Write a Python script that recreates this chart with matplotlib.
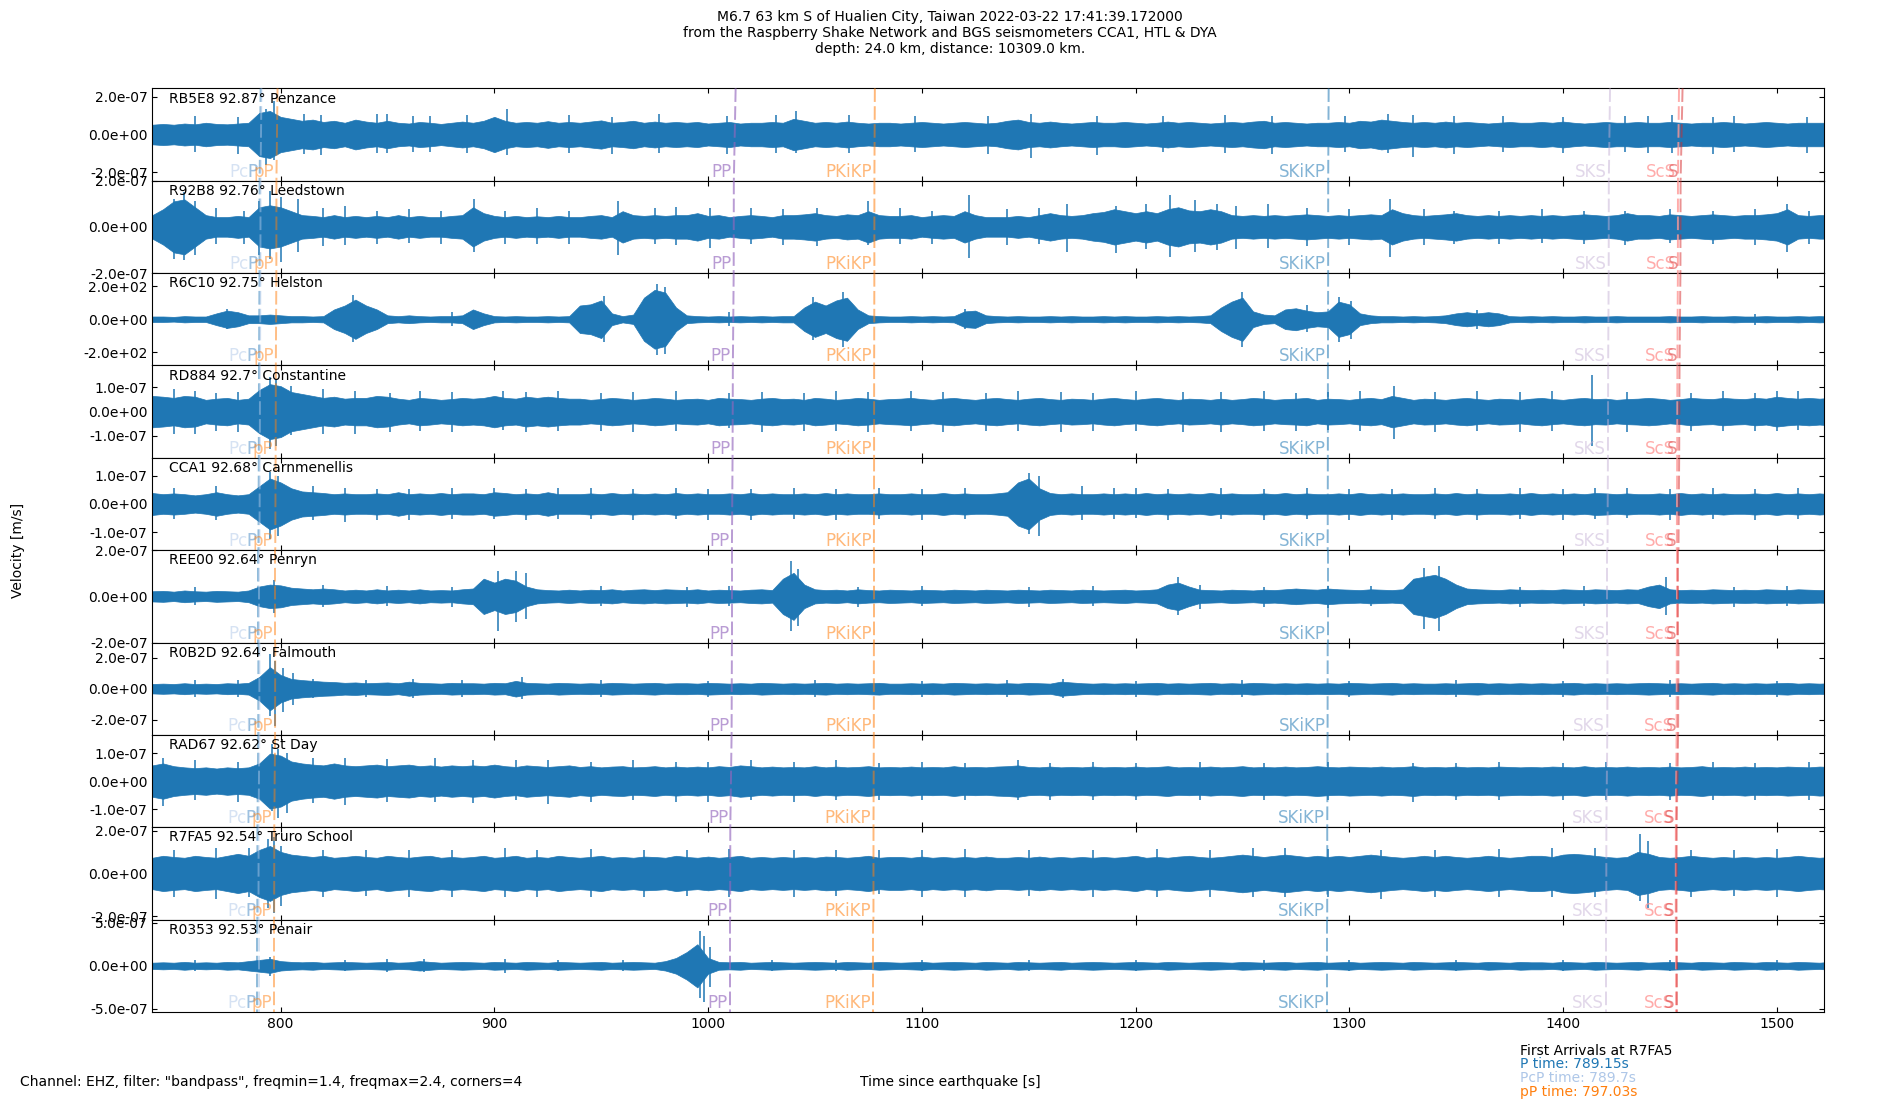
import numpy as np
import matplotlib
matplotlib.use("Agg")
import matplotlib.pyplot as plt

# ---------------- data ----------------
stations = ["RB5E8", "R92B8", "R6C10", "RD884", "CCA1", "REE00", "R0B2D", "RAD67", "R7FA5", "R0353"]
places = ["Penzance", "Leedstown", "Helston", "Constantine", "Carnmenellis", "Penryn",
          "Falmouth", "St Day", "Truro School", "Penair"]
distances = [92.87, 92.76, 92.75, 92.7, 92.68, 92.64, 92.64, 92.62, 92.54, 92.53]

# half range of each panel's y axis and tick value used
y_half = [2.44e-07, 2.0e-07, 278.0, 1.9e-07, 1.64e-07, 2.0e-07, 2.98e-07, 1.65e-07, 2.16e-07, 5.35e-07]
y_tick = [2e-07, 2e-07, 200.0, 1e-07, 1e-07, 2e-07, 2e-07, 1e-07, 2e-07, 5e-07]

# envelope sample times (s since origin)
env_times = np.arange(740, 1526, 5)

# amplitude envelope per station (fraction of panel half-range), read every 5 s
env_RB5E8 = [
    .25, .27, .25, .28, .26, .30, .27, .26, .28, .30,
    .55, .60, .45, .40, .35, .38, .32, .35, .30, .38,
    .33, .30, .35, .30, .28, .32, .30, .27, .30, .33,
    .30, .35, .45, .35, .30, .32, .30, .34, .30, .32,
    .30, .33, .36, .30, .32, .35, .30, .33, .30, .32,
    .30, .32, .28, .30, .32, .28, .30, .30, .32, .30,
    .40, .35, .30, .32, .30, .33, .30, .28, .30, .30,
    .28, .30, .32, .30, .28, .30, .32, .30, .28, .30,
    .35, .38, .32, .30, .33, .30, .28, .30, .32, .30,
    .30, .32, .30, .28, .30, .33, .30, .32, .30, .28,
    .30, .32, .30, .33, .35, .30, .32, .30, .28, .30,
    .30, .32, .30, .35, .33, .38, .35, .32, .30, .32,
    .30, .33, .30, .32, .30, .28, .30, .32, .30, .30,
    .32, .30, .33, .30, .28, .30, .32, .30, .30, .32,
    .30, .30, .32, .30, .28, .30, .30, .32, .30, .28,
    .30, .32, .30, .28, .30, .30, .30, .30]
env_R92B8 = [
    .30, .45, .65, .70, .50, .30, .25, .25, .28, .25,
    .50, .55, .50, .40, .30, .28, .25, .30, .25, .28,
    .25, .28, .25, .30, .25, .28, .25, .25, .28, .30,
    .50, .35, .28, .25, .28, .25, .27, .25, .28, .25,
    .25, .28, .30, .25, .40, .30, .28, .30, .28, .30,
    .30, .35, .28, .30, .25, .28, .30, .28, .25, .30,
    .30, .32, .35, .30, .28, .32, .30, .40, .30, .28,
    .28, .30, .25, .28, .30, .28, .40, .30, .25, .25,
    .25, .28, .25, .30, .35, .30, .28, .30, .35, .38,
    .45, .40, .35, .40, .35, .45, .50, .42, .40, .45,
    .40, .30, .28, .30, .28, .30, .28, .30, .32, .30,
    .28, .30, .28, .30, .32, .30, .45, .35, .30, .28,
    .30, .32, .35, .30, .28, .30, .28, .30, .28, .30,
    .28, .30, .28, .30, .32, .30, .28, .30, .35, .30,
    .30, .28, .32, .30, .28, .30, .32, .30, .28, .30,
    .30, .32, .35, .45, .30, .28, .30, .30]
env_R6C10 = [
    .07, .07, .06, .08, .07, .07, .15, .22, .18, .10,
    .10, .12, .10, .08, .08, .07, .08, .25, .35, .50,
    .35, .25, .10, .08, .10, .08, .07, .08, .08, .10,
    .25, .15, .08, .07, .08, .07, .07, .08, .07, .08,
    .35, .38, .48, .15, .08, .12, .55, .75, .68, .30,
    .10, .08, .07, .08, .07, .08, .07, .08, .07, .08,
    .08, .30, .45, .35, .48, .55, .25, .10, .08, .07,
    .07, .08, .07, .08, .07, .08, .20, .22, .10, .08,
    .07, .08, .07, .07, .08, .07, .08, .07, .07, .08,
    .07, .08, .07, .07, .08, .07, .08, .07, .08, .10,
    .30, .45, .55, .20, .12, .10, .25, .28, .22, .18,
    .20, .45, .38, .15, .10, .08, .08, .07, .08, .07,
    .08, .10, .15, .18, .15, .18, .15, .08, .07, .08,
    .07, .08, .07, .07, .08, .07, .07, .08, .07, .07,
    .07, .07, .08, .07, .07, .08, .07, .07, .08, .07,
    .07, .08, .07, .07, .08, .07, .08, .07]
env_RD884 = [
    .40, .38, .35, .40, .38, .30, .33, .35, .30, .33,
    .55, .70, .65, .50, .45, .40, .35, .38, .33, .35,
    .35, .40, .38, .33, .30, .35, .33, .30, .32, .35,
    .33, .35, .40, .35, .33, .38, .35, .38, .35, .33,
    .33, .30, .32, .35, .33, .30, .32, .35, .33, .30,
    .32, .33, .30, .35, .33, .32, .30, .33, .35, .32,
    .33, .30, .35, .33, .30, .32, .35, .33, .30, .32,
    .33, .35, .32, .30, .33, .35, .32, .30, .33, .35,
    .32, .30, .33, .35, .32, .30, .33, .32, .30, .33,
    .35, .32, .30, .33, .35, .32, .30, .33, .32, .30,
    .33, .30, .32, .35, .33, .30, .32, .33, .35, .30,
    .33, .32, .30, .33, .35, .32, .40, .35, .30, .33,
    .32, .30, .33, .35, .32, .30, .33, .32, .30, .33,
    .35, .32, .30, .33, .35, .32, .33, .30, .32, .33,
    .35, .33, .30, .32, .35, .33, .32, .35, .33, .32,
    .35, .33, .38, .35, .33, .35, .33, .35]
env_CCA1 = [
    .28, .25, .27, .25, .22, .25, .30, .25, .22, .25,
    .45, .65, .55, .40, .32, .30, .28, .25, .27, .25,
    .25, .27, .25, .30, .25, .27, .25, .28, .25, .27,
    .27, .25, .30, .28, .25, .27, .25, .30, .25, .25,
    .25, .27, .25, .28, .25, .27, .25, .27, .25, .28,
    .25, .27, .25, .25, .27, .25, .28, .25, .27, .25,
    .25, .27, .25, .28, .25, .27, .25, .25, .27, .25,
    .25, .27, .25, .25, .28, .25, .27, .25, .25, .27,
    .30, .55, .65, .40, .28, .25, .27, .25, .25, .27,
    .25, .27, .25, .28, .25, .27, .25, .27, .25, .28,
    .25, .27, .25, .25, .27, .25, .28, .25, .27, .25,
    .25, .27, .25, .28, .25, .27, .25, .27, .25, .25,
    .27, .25, .28, .25, .27, .25, .25, .27, .25, .28,
    .25, .27, .25, .27, .25, .28, .27, .25, .27, .25,
    .25, .27, .25, .28, .25, .27, .25, .27, .25, .25,
    .27, .25, .28, .25, .27, .25, .27, .25]
env_REE00 = [
    .13, .14, .12, .15, .13, .12, .14, .13, .12, .15,
    .25, .30, .28, .22, .20, .18, .20, .18, .15, .17,
    .15, .18, .15, .17, .15, .18, .15, .16, .15, .18,
    .20, .45, .35, .45, .40, .25, .18, .16, .15, .17,
    .15, .17, .16, .18, .15, .17, .18, .16, .18, .17,
    .16, .18, .15, .17, .16, .15, .17, .18, .16, .45,
    .60, .30, .18, .16, .17, .15, .18, .16, .15, .17,
    .16, .15, .17, .16, .15, .17, .16, .15, .17, .16,
    .15, .17, .16, .15, .17, .16, .15, .17, .16, .15,
    .16, .17, .15, .16, .18, .30, .35, .25, .17, .16,
    .15, .17, .16, .15, .17, .16, .18, .20, .18, .17,
    .20, .18, .17, .16, .18, .17, .16, .18, .45, .50,
    .55, .45, .30, .20, .18, .17, .16, .18, .17, .16,
    .17, .16, .18, .17, .16, .18, .17, .16, .18, .17,
    .25, .30, .18, .16, .17, .16, .18, .17, .16, .17,
    .16, .18, .17, .16, .18, .17, .16, .17]
env_R0B2D = [
    .12, .13, .12, .14, .12, .13, .12, .14, .13, .15,
    .30, .55, .35, .25, .22, .20, .18, .17, .15, .16,
    .14, .15, .16, .14, .18, .15, .14, .13, .15, .14,
    .14, .13, .15, .14, .20, .15, .14, .13, .15, .14,
    .13, .14, .13, .15, .14, .13, .14, .15, .13, .14,
    .14, .13, .15, .14, .13, .14, .13, .15, .14, .13,
    .14, .13, .14, .15, .13, .14, .13, .14, .15, .13,
    .13, .14, .13, .14, .13, .15, .14, .13, .14, .13,
    .14, .13, .15, .14, .13, .18, .16, .14, .13, .14,
    .13, .14, .13, .14, .15, .13, .14, .13, .14, .15,
    .13, .14, .13, .15, .14, .13, .14, .13, .14, .13,
    .14, .13, .15, .14, .13, .14, .15, .13, .14, .13,
    .13, .14, .13, .14, .15, .13, .14, .13, .14, .13,
    .14, .13, .14, .15, .13, .14, .13, .14, .13, .14,
    .15, .14, .13, .14, .13, .14, .15, .13, .14, .13,
    .14, .13, .14, .15, .13, .14, .13, .14]
env_RAD67 = [
    .40, .45, .38, .35, .33, .35, .32, .35, .33, .35,
    .45, .70, .65, .50, .45, .42, .40, .45, .40, .38,
    .40, .42, .38, .40, .42, .38, .40, .37, .40, .38,
    .40, .38, .42, .38, .36, .40, .38, .36, .38, .40,
    .36, .38, .35, .37, .38, .35, .36, .38, .35, .37,
    .35, .37, .35, .38, .36, .40, .38, .35, .37, .35,
    .36, .35, .38, .35, .37, .35, .36, .38, .35, .36,
    .35, .37, .35, .36, .35, .38, .35, .36, .35, .37,
    .38, .40, .36, .35, .37, .35, .36, .35, .37, .35,
    .36, .35, .37, .35, .36, .38, .35, .36, .35, .37,
    .35, .36, .38, .35, .36, .35, .37, .35, .36, .38,
    .36, .35, .37, .36, .35, .37, .35, .36, .38, .35,
    .36, .35, .37, .35, .36, .35, .37, .36, .35, .36,
    .35, .37, .36, .35, .38, .35, .36, .35, .37, .35,
    .36, .35, .37, .35, .36, .38, .35, .36, .35, .37,
    .35, .36, .35, .37, .36, .35, .37, .36]
env_R7FA5 = [
    .40, .45, .42, .40, .45, .42, .40, .45, .50, .45,
    .60, .70, .55, .48, .45, .42, .45, .40, .42, .45,
    .42, .40, .45, .42, .40, .43, .45, .40, .42, .40,
    .42, .45, .40, .42, .45, .40, .42, .40, .45, .42,
    .40, .42, .45, .40, .42, .40, .43, .42, .40, .45,
    .42, .40, .43, .40, .42, .45, .40, .42, .40, .42,
    .40, .42, .40, .43, .42, .40, .42, .45, .40, .42,
    .42, .40, .43, .40, .42, .40, .42, .40, .43, .40,
    .40, .42, .40, .43, .40, .42, .40, .42, .40, .42,
    .40, .42, .45, .40, .42, .40, .43, .45, .42, .40,
    .42, .45, .48, .45, .42, .45, .48, .45, .42, .45,
    .42, .45, .42, .45, .48, .45, .42, .40, .42, .45,
    .42, .45, .42, .40, .42, .45, .42, .40, .42, .45,
    .45, .42, .48, .50, .48, .45, .42, .40, .42, .55,
    .50, .42, .40, .42, .45, .42, .40, .42, .40, .42,
    .40, .42, .40, .42, .45, .42, .40, .42]
env_R0353 = [
    .08, .09, .08, .10, .08, .09, .08, .10, .09, .12,
    .15, .18, .12, .10, .09, .10, .08, .09, .10, .09,
    .08, .09, .10, .08, .09, .12, .10, .08, .09, .10,
    .09, .08, .10, .09, .08, .10, .09, .08, .10, .09,
    .08, .09, .10, .08, .09, .10, .09, .08, .12, .20,
    .35, .55, .20, .10, .09, .10, .08, .09, .10, .09,
    .08, .09, .10, .09, .08, .10, .09, .08, .10, .09,
    .08, .09, .10, .08, .09, .10, .09, .08, .10, .09,
    .08, .10, .09, .08, .09, .10, .08, .09, .10, .09,
    .08, .09, .10, .09, .08, .10, .09, .08, .09, .10,
    .09, .08, .10, .09, .08, .09, .10, .08, .09, .10,
    .08, .09, .10, .08, .09, .10, .09, .08, .10, .09,
    .08, .09, .10, .09, .08, .10, .09, .08, .10, .09,
    .09, .08, .10, .09, .08, .10, .09, .08, .09, .10,
    .08, .09, .10, .09, .08, .10, .09, .08, .10, .09,
    .08, .10, .09, .08, .10, .09, .08, .10]

# notable peaks per station: (time s, upward fraction, downward fraction)
peaks_RB5E8 = [(760, .40, .38), (780, .38, .42), (793, .55, .65), (797, .72, .55), (811, .45, .42),
               (819, .42, .45), (845, .45, .40), (850, .45, .40), (862, .40, .38), (870, .40, .38),
               (887, .42, .40), (906, .55, .45), (935, .42, .40), (955, .38, .42), (977, .45, .40),
               (1009, .40, .42), (1032, .42, .40), (1041, .50, .40), (1066, .42, .40), (1097, .40, .38),
               (1131, .40, .42), (1151, .45, .50), (1182, .40, .45), (1213, .40, .38), (1242, .42, .40),
               (1264, .40, .42), (1298, .40, .38), (1318, .45, .40), (1330, .42, .48), (1349, .40, .42),
               (1372, .40, .38), (1400, .38, .40), (1429, .40, .38), (1440, .40, .40), (1451, .42, .40),
               (1470, .38, .42), (1480, .40, .38), (1514, .38, .40)]
peaks_R92B8 = [(750, .60, .70), (755, .75, .72), (760, .55, .60), (770, .40, .38), (783, .35, .38),
               (790, .55, .60), (795, .78, .70), (800, .65, .75), (808, .60, .55), (820, .40, .42),
               (830, .45, .40), (845, .35, .38), (860, .38, .35), (875, .35, .38), (890.5, .60, .55),
               (905, .35, .38), (920, .40, .38), (935, .35, .38), (958, .55, .60), (975, .40, .38),
               (985, .42, .40), (1001, .40, .45), (1020, .40, .38), (1035, .38, .40), (1051, .40, .42),
               (1075, .55, .40), (1090, .40, .38), (1105, .35, .38), (1122, .68, .68), (1140, .38, .40),
               (1155, .40, .38), (1168, .50, .55), (1191, .45, .56), (1205, .50, .48), (1216, .68, .65),
               (1228, .58, .55), (1238, .50, .50), (1247, .45, .48), (1262, .50, .45), (1280, .40, .42),
               (1300, .38, .40), (1319, .60, .65), (1335, .38, .40), (1349, .35, .38), (1370, .35, .38),
               (1390, .38, .35), (1410, .35, .38), (1429, .35, .40), (1450, .38, .35), (1470, .35, .38),
               (1490, .38, .40), (1505, .50, .55), (1515, .35, .38)]
peaks_R6C10 = [(775, .23, .22), (834, .52, .50), (880, .15, .14), (951.5, .50, .50), (976, .76, .78),
               (980, .70, .75), (1010, .15, .14), (1049, .48, .45), (1063, .58, .60), (1120, .22, .22),
               (1250, .60, .60), (1280, .30, .28), (1295, .48, .50), (1301, .40, .42), (1360, .20, .22),
               (1490, .12, .12)]
peaks_RD884 = [(750, .50, .48), (760, .45, .48), (770, .40, .42), (780, .42, .45), (795, .75, .80),
               (798, .70, .75), (805, .55, .50), (820, .50, .48), (835, .45, .48), (851, .40, .45),
               (865, .45, .42), (880, .42, .45), (904, .45, .40), (915, .42, .45), (930, .45, .42),
               (950, .40, .42), (965, .42, .45), (985, .45, .42), (1010, .40, .35), (1025, .42, .45),
               (1045, .40, .42), (1060, .45, .42), (1075, .42, .45), (1095, .45, .42), (1110, .42, .45),
               (1130, .40, .42), (1145, .45, .42), (1165, .42, .45), (1180, .40, .42), (1200, .45, .42),
               (1222, .42, .45), (1240, .42, .45), (1260, .45, .42), (1275, .40, .42), (1290, .42, .40),
               (1305, .45, .42), (1321, .55, .60), (1340, .42, .45), (1360, .45, .42), (1380, .42, .45),
               (1395, .45, .42), (1413.5, .80, .75), (1430, .42, .45), (1460, .40, .42), (1475, .45, .42),
               (1490, .40, .42), (1500, .45, .42), (1510, .45, .40)]
peaks_CCA1 = [(750, .35, .33), (770, .38, .35), (795, .70, .75), (799, .60, .70), (815, .38, .35),
              (830, .35, .38), (845, .33, .35), (860, .33, .35), (880, .35, .33), (900, .35, .33),
              (915, .33, .35), (930, .35, .33), (945, .35, .33), (965, .33, .35), (985, .35, .33),
              (1000, .33, .35), (1020, .33, .35), (1040, .35, .33), (1060, .33, .35), (1080, .35, .33),
              (1100, .33, .35), (1120, .35, .33), (1150, .67, .65), (1155, .60, .70), (1175, .38, .35),
              (1190, .35, .33), (1200, .35, .30), (1215, .33, .35), (1240, .35, .33), (1260, .33, .35),
              (1280, .35, .33), (1300, .33, .35), (1320, .33, .35), (1340, .35, .33), (1360, .33, .35),
              (1380, .35, .33), (1400, .33, .35), (1415, .35, .33), (1430, .35, .30), (1450, .33, .35),
              (1470, .35, .33), (1490, .33, .35), (1510, .35, .33)]
peaks_REE00 = [(760, .20, .18), (797, .35, .35), (820, .25, .22), (850, .22, .20), (880, .20, .22),
               (901.5, .55, .74), (910, .55, .55), (915, .50, .50), (950, .22, .20), (990, .20, .22),
               (1010, .22, .20), (1039, .76, .74), (1042, .60, .65), (1070, .20, .22), (1100, .22, .20),
               (1150, .20, .22), (1180, .22, .20), (1220, .42, .40), (1230, .25, .28), (1260, .20, .22),
               (1290, .22, .25), (1310, .22, .20), (1335, .62, .70), (1342, .66, .74), (1380, .20, .22),
               (1410, .22, .20), (1448, .42, .40), (1480, .20, .22), (1505, .22, .20)]
peaks_R0B2D = [(760, .18, .17), (780, .18, .17), (795, .75, .60), (797.5, .60, .80), (801, .45, .50),
               (806, .35, .35), (815, .22, .20), (840, .18, .17), (862, .22, .20), (885, .18, .17),
               (913, .25, .22), (950, .18, .17), (1000, .17, .18), (1050, .18, .17), (1100, .17, .18),
               (1140, .18, .17), (1166, .22, .20), (1200, .17, .18), (1250, .18, .17), (1300, .17, .18),
               (1350, .18, .17), (1400, .17, .18), (1450, .18, .17), (1500, .17, .18)]
peaks_RAD67 = [(745, .50, .55), (760, .45, .42), (780, .42, .45), (796, .80, .65), (799, .70, .80),
               (803, .60, .70), (815, .50, .48), (830, .50, .52), (850, .48, .45), (872, .50, .45),
               (890, .45, .48), (910, .45, .42), (925, .45, .50), (945, .42, .45), (965, .45, .42),
               (985, .42, .45), (1000, .42, .45), (1020, .45, .42), (1040, .42, .45), (1060, .45, .42),
               (1080, .40, .42), (1100, .42, .40), (1120, .40, .42), (1145, .45, .42), (1160, .40, .42),
               (1180, .42, .40), (1200, .40, .42), (1230, .42, .40), (1260, .40, .42), (1290, .42, .40),
               (1330, .40, .45), (1350, .40, .42), (1370, .42, .40), (1400, .40, .42), (1420, .42, .40),
               (1450, .40, .42), (1470, .42, .40), (1490, .40, .42), (1515, .42, .40)]
peaks_R7FA5 = [(750, .50, .52), (770, .55, .55), (785, .55, .50), (794, .75, .75), (797, .80, .85),
               (800, .60, .70), (820, .50, .52), (840, .50, .48), (860, .50, .50), (880, .50, .52),
               (905, .55, .50), (920, .50, .52), (945, .52, .50), (970, .50, .52), (990, .50, .48),
               (1010, .52, .50), (1040, .50, .52), (1060, .50, .48), (1080, .50, .45), (1100, .50, .52),
               (1120, .52, .50), (1150, .50, .48), (1180, .50, .52), (1210, .52, .50), (1235, .50, .52),
               (1255, .55, .50), (1270, .55, .52), (1290, .52, .50), (1315, .50, .55), (1340, .50, .52),
               (1370, .52, .50), (1395, .55, .52), (1415, .55, .50), (1436, .85, .60), (1440, .70, .75),
               (1460, .50, .52), (1480, .50, .48), (1500, .52, .50)]
peaks_R0353 = [(760, .12, .12), (795, .20, .22), (830, .12, .12), (850, .14, .13), (867, .15, .14),
               (905, .14, .15), (930, .12, .12), (960, .12, .12), (996, .75, .70), (998, .65, .78),
               (1001, .40, .45), (1030, .12, .12), (1060, .12, .12), (1100, .12, .12), (1150, .12, .12),
               (1200, .12, .12), (1260, .12, .12), (1300, .12, .12), (1350, .12, .12), (1400, .12, .12),
               (1450, .12, .12), (1500, .12, .12)]

envelopes = [env_RB5E8, env_R92B8, env_R6C10, env_RD884, env_CCA1, env_REE00,
             env_R0B2D, env_RAD67, env_R7FA5, env_R0353]
peaks = [peaks_RB5E8, peaks_R92B8, peaks_R6C10, peaks_RD884, peaks_CCA1, peaks_REE00,
         peaks_R0B2D, peaks_RAD67, peaks_R7FA5, peaks_R0353]

# phase arrival times at each station (s)
phase_names = ["P", "PcP", "pP", "PP", "PKiKP", "SKiKP", "SKS", "ScS", "S"]
t_P = [790.67, 790.16, 790.12, 789.89, 789.79, 789.61, 789.61, 789.52, 789.15, 789.10]
t_PcP = [791.05, 790.60, 790.56, 790.36, 790.27, 790.11, 790.11, 790.03, 789.70, 789.66]
t_pP = [798.55, 798.04, 798.00, 797.77, 797.67, 797.49, 797.49, 797.40, 797.03, 796.98]
t_PP = [1012.9, 1012.05, 1011.98, 1011.6, 1011.45, 1011.15, 1011.15, 1011.0, 1010.4, 1010.33]
t_PKiKP = [1078.03, 1077.82, 1077.8, 1077.7, 1077.67, 1077.59, 1077.59, 1077.55, 1077.4, 1077.38]
t_SKiKP = [1290.36, 1290.14, 1290.12, 1290.02, 1289.98, 1289.9, 1289.9, 1289.86, 1289.7, 1289.68]
t_SKS = [1422.02, 1421.44, 1421.39, 1421.13, 1421.03, 1420.82, 1420.82, 1420.72, 1420.3, 1420.25]
t_ScS = [1454.29, 1453.79, 1453.75, 1453.52, 1453.43, 1453.25, 1453.25, 1453.16, 1452.8, 1452.76]
t_S = [1455.94, 1455.03, 1454.94, 1454.53, 1454.36, 1454.03, 1454.03, 1453.86, 1453.2, 1453.12]
phase_times = [t_P, t_PcP, t_pP, t_PP, t_PKiKP, t_SKiKP, t_SKS, t_ScS, t_S]
phase_colors = ["#1f77b4", "#aec7e8", "#ff7f0e", "#9467bd", "#ff7f0e", "#1f77b4", "#c5b0d5", "#ff9896", "#d62728"]
phase_alpha = [0.5, 0.5, 0.5, 0.65, 0.55, 0.55, 0.5, 0.8, 0.5]

x_limits = (740.0, 1522.3)
x_ticks = [800, 900, 1000, 1100, 1200, 1300, 1400, 1500]

title = ("M6.7 63 km S of Hualien City, Taiwan 2022-03-22 17:41:39.172000\n"
         "from the Raspberry Shake Network and BGS seismometers CCA1, HTL & DYA\n"
         "depth: 24.0 km, distance: 10309.0 km.")
filter_note = 'Channel: EHZ, filter: "bandpass", freqmin=1.4, freqmax=2.4, corners=4'
arrival_lines = [("First Arrivals at R7FA5", "black"),
                 ("P time: 789.15s", "#1f77b4"),
                 ("PcP time: 789.7s", "#aec7e8"),
                 ("pP time: 797.03s", "#ff7f0e")]

# ---------------- figure ----------------
trace_color = "#1f77b4"
fig, axes = plt.subplots(len(stations), 1, figsize=(19, 11), dpi=100, sharex=True)
fig.subplots_adjust(left=0.0802, right=0.9602, top=0.9197, bottom=0.08, hspace=0)

n = len(stations)
for i, ax in enumerate(axes):
    yl = y_half[i]
    env = np.array(envelopes[i]) * yl * 0.85
    ax.fill_between(env_times, -env, env, color=trace_color, lw=0.5, zorder=2)
    pk_t = [p[0] for p in peaks[i]]
    pk_hi = [p[1] * yl for p in peaks[i]]
    pk_lo = [-p[2] * yl for p in peaks[i]]
    ax.vlines(pk_t, pk_lo, pk_hi, color=trace_color, lw=1.1, zorder=2)
    ax.axhline(0, color=trace_color, lw=1.0, zorder=2)

    ax.set_xlim(*x_limits)
    ax.set_ylim(-yl, yl)
    yt = y_tick[i]
    ax.set_yticks([-yt, 0, yt])
    ax.set_yticklabels(["%.1e" % v for v in (-yt, 0.0, yt)])
    ax.set_xticks(x_ticks)
    ax.tick_params(direction="in", top=True, right=True, labelsize=10)
    if i < n - 1:
        ax.tick_params(labelbottom=False)

    # phase markers: line from this station's arrival (top) to the next station's (bottom)
    j = min(i + 1, n - 1)
    for name, times, col, al in zip(phase_names, phase_times, phase_colors, phase_alpha):
        t_top, t_bot = times[i], times[j]
        ax.plot([t_top, t_bot], [yl, -yl], color=col, alpha=al, lw=1.4,
                ls=(0, (7, 2.2)), zorder=3)
        ax.text(t_bot - 1.0, -yl, name, color=col, alpha=al, fontsize=12,
                ha="right", va="bottom", zorder=3)

    ax.text(0.0102, 0.965, f"{stations[i]} {distances[i]}\u00b0 {places[i]}",
            transform=ax.transAxes, ha="left", va="top", fontsize=10, zorder=4)

fig.suptitle(title, y=0.991, fontsize=10, va="top")
fig.text(0.0096, 0.5, "Velocity [m/s]", rotation=90, ha="center", va="center", fontsize=10)
fig.text(0.5, 0.0166, "Time since earthquake [s]", ha="center", va="center", fontsize=10)
fig.text(0.0103, 0.0166, filter_note, ha="left", va="center", fontsize=10)
for k, (txt, col) in enumerate(arrival_lines):
    fig.text(0.8, 0.0448 - k * 0.0124, txt, color=col, ha="left", va="center", fontsize=10)

fig.savefig("out.png", dpi=100)
